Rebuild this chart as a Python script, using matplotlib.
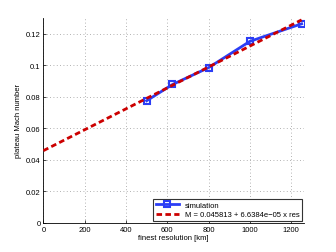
import matplotlib
matplotlib.use("Agg")
import matplotlib.pyplot as plt

plt.rcParams['font.family'] = ['Liberation Sans', 'DejaVu Sans']

# simulation results
res_km = [500, 625, 800, 1000, 1250]
mach = [0.0775, 0.0878, 0.0985, 0.1152, 0.1263]

# linear fit (endpoints)
fit_x = [0, 1250]
fit_y = [0.045813, 0.128793]
fit_label = 'M = 0.045813 + 6.6384e\u221205 x res'

xticks = [0, 200, 400, 600, 800, 1000, 1200]
yticks = [0, 0.02, 0.04, 0.06, 0.08, 0.1, 0.12]
ytick_labels = ['0', '0.02', '0.04', '0.06', '0.08', '0.1', '0.12']

fig = plt.figure(figsize=(3.36, 2.53), dpi=100)
ax = fig.add_axes([0.129, 0.115, 0.776, 0.81])

ax.plot(res_km, mach, '-s', color='#2b3df5', lw=2, ms=5, mfc='none', mew=1.5,
        label='simulation', zorder=3)
ax.plot(fit_x, fit_y, '--', color='#cc0000', lw=2, dashes=(2, 1.2),
        label=fit_label, zorder=4)

ax.set_xlim(0, 1262)
ax.set_ylim(0, 0.13)
ax.set_xticks(xticks)
ax.set_yticks(yticks)
ax.set_yticklabels(ytick_labels)
ax.tick_params(direction='in', labelsize=5.5, length=2, width=0.5, pad=2)
ax.grid(True, linestyle=(0, (1, 3)), color='#999999', lw=0.6)
for s in ['top', 'right']:
    ax.spines[s].set_visible(False)
for s in ['left', 'bottom']:
    ax.spines[s].set_linewidth(0.6)

ax.set_xlabel('finest resolution [km]', fontsize=5.5, labelpad=1)
ax.set_ylabel('plateau Mach number', fontsize=5.5, labelpad=3)

leg = ax.legend(loc='lower right', fontsize=5.5, fancybox=False,
                edgecolor='#333333', framealpha=1, borderpad=0.35,
                handlelength=3, labelspacing=0.25, borderaxespad=0.25)
leg.get_frame().set_linewidth(0.8)

fig.savefig('out.png', dpi=100)
